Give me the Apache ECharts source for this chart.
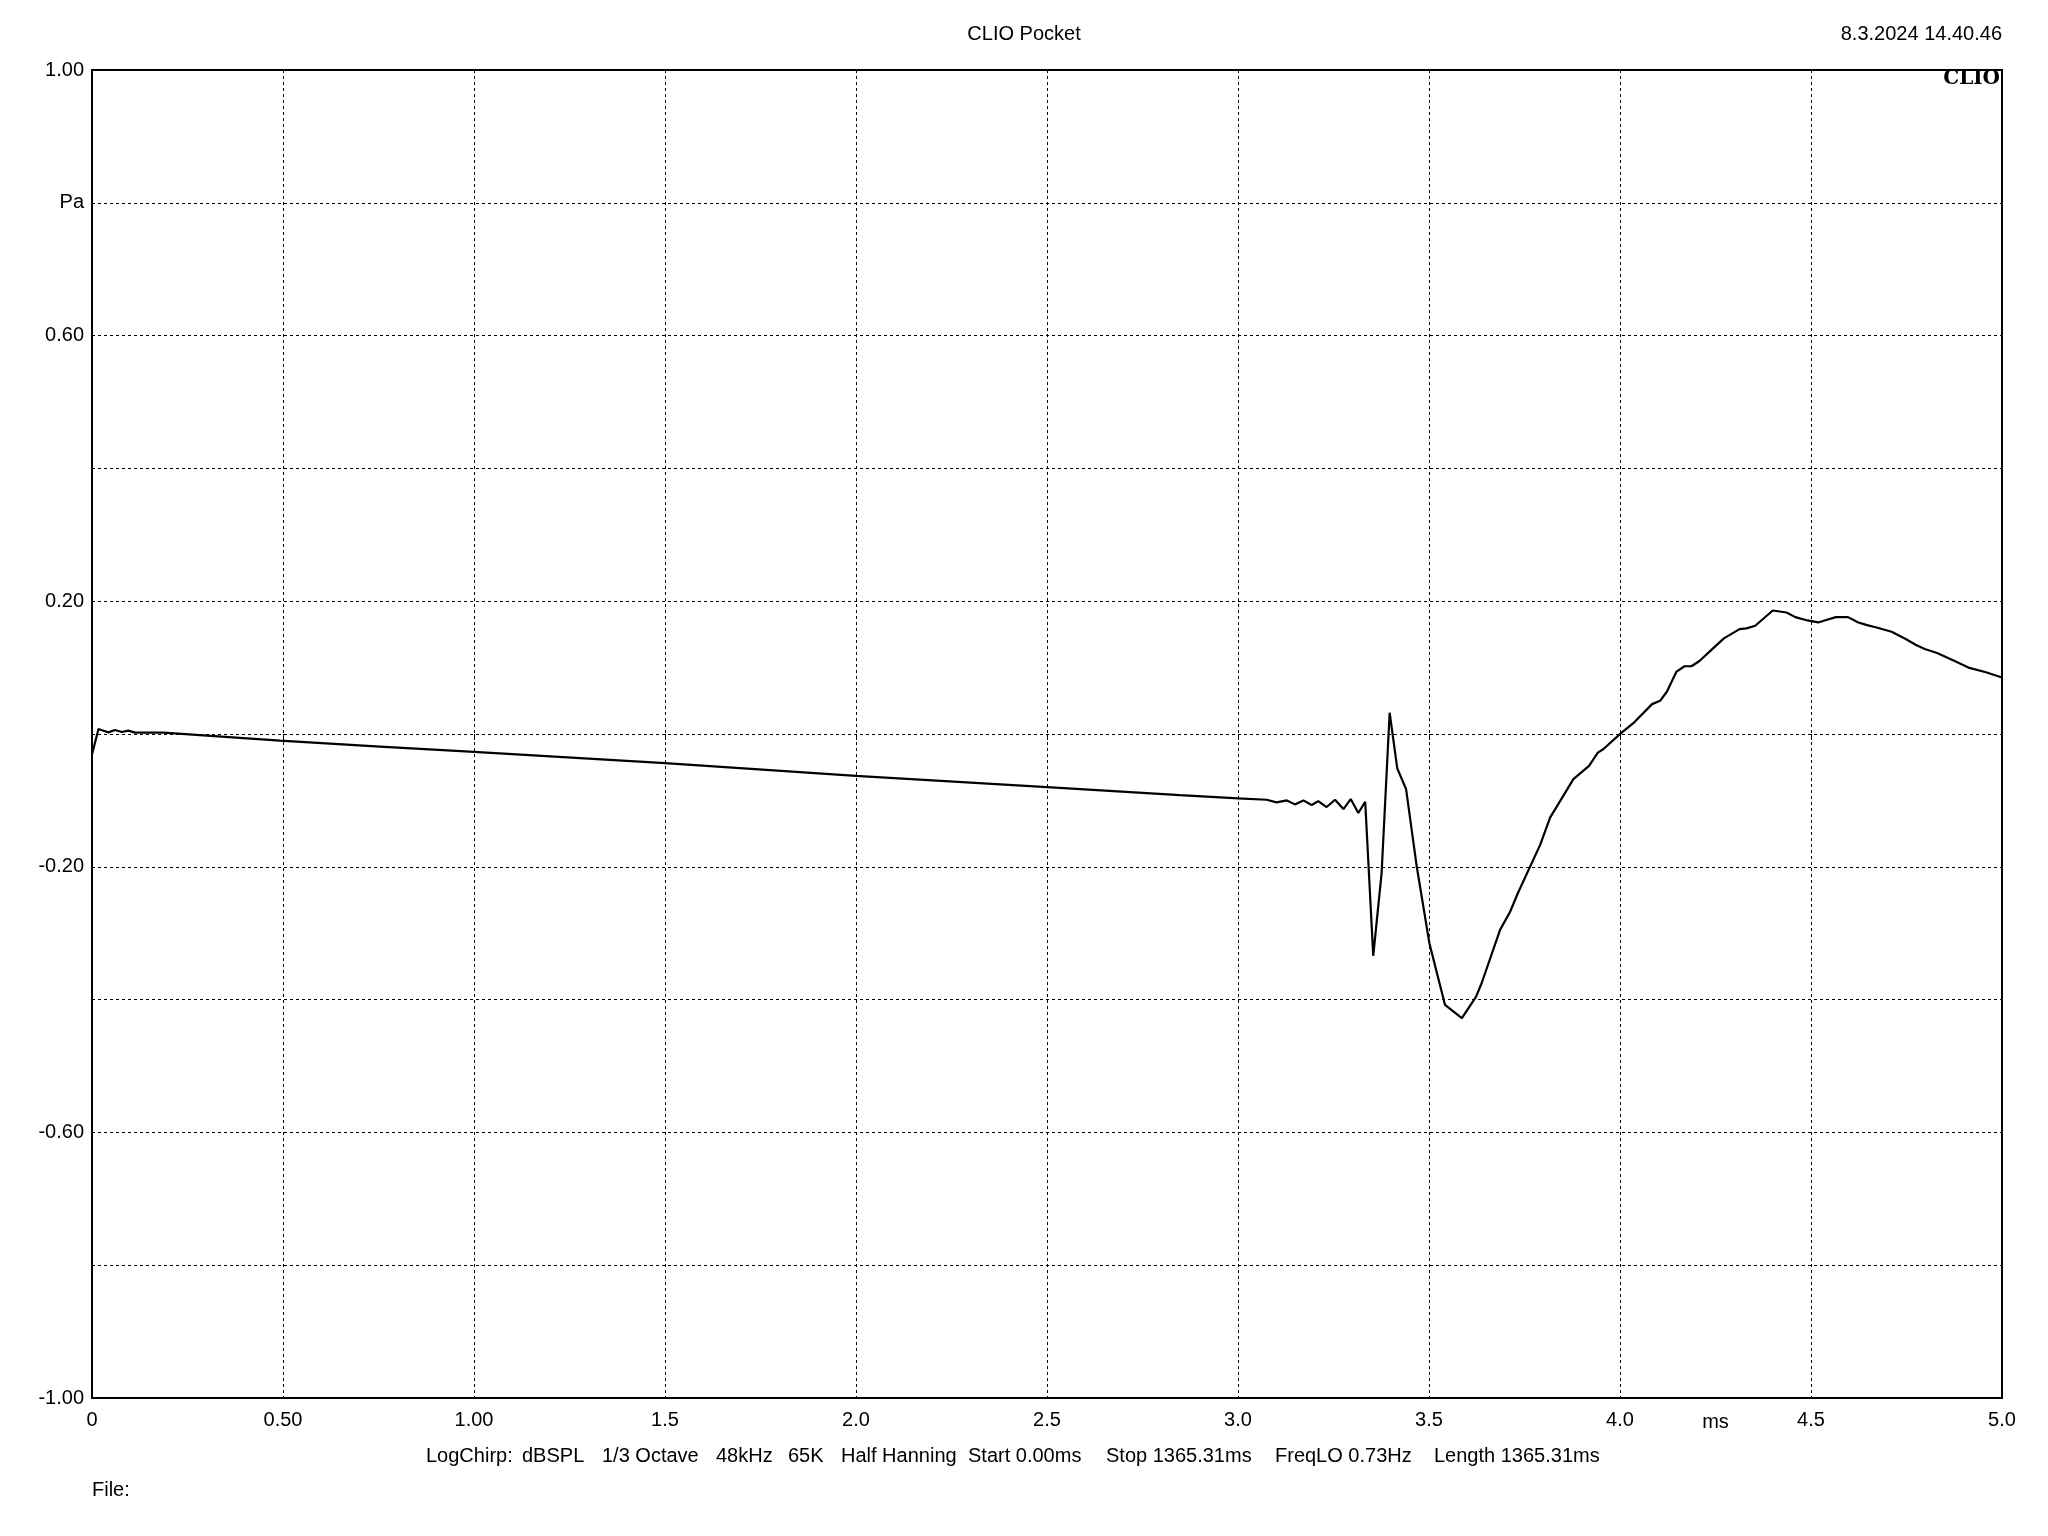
<!DOCTYPE html>
<html>
<head>
<meta charset="utf-8">
<script src="https://cdn.jsdelivr.net/npm/echarts@6/dist/echarts.min.js"></script>
<style>
html,body{margin:0;padding:0;background:#fff;}
#c{width:2048px;height:1536px;}
</style>
</head>
<body>
<div id="c"></div>
<script>
// time in ms
var timeMs = [0, 0.017, 0.030, 0.043, 0.060, 0.078, 0.095, 0.113, 0.187, 0.492, 0.754, 1.0, 1.5, 2.0, 2.5, 2.848, 3.0, 3.075, 3.101, 3.128, 3.149, 3.171, 3.193, 3.210, 3.232, 3.254, 3.276, 3.295, 3.315, 3.333, 3.354, 3.376, 3.397, 3.417, 3.440, 3.468, 3.501, 3.542, 3.586, 3.623, 3.638, 3.686, 3.712, 3.734, 3.791, 3.817, 3.878, 3.919, 3.942, 3.956, 4.002, 4.038, 4.084, 4.105, 4.123, 4.148, 4.169, 4.187, 4.208, 4.240, 4.272, 4.313, 4.331, 4.354, 4.372, 4.400, 4.436, 4.459, 4.491, 4.519, 4.542, 4.565, 4.597, 4.624, 4.647, 4.674, 4.711, 4.748, 4.775, 4.798, 4.830, 4.876, 4.912, 4.958, 5.0];
// pressure in Pa
var pressurePa = [-0.031, 0.0075, 0.005, 0.0025, 0.006, 0.003, 0.005, 0.002, 0.002, -0.010, -0.019, -0.027, -0.044, -0.063, -0.080, -0.092, -0.097, -0.099, -0.103, -0.100, -0.106, -0.100, -0.107, -0.101, -0.110, -0.099, -0.113, -0.098, -0.119, -0.102, -0.334, -0.209, 0.032, -0.052, -0.083, -0.200, -0.315, -0.408, -0.428, -0.396, -0.375, -0.295, -0.268, -0.238, -0.167, -0.126, -0.068, -0.048, -0.028, -0.023, 0.001, 0.018, 0.045, 0.050, 0.064, 0.094, 0.102, 0.102, 0.110, 0.127, 0.144, 0.158, 0.159, 0.163, 0.172, 0.186, 0.183, 0.176, 0.171, 0.168, 0.172, 0.176, 0.176, 0.168, 0.164, 0.160, 0.154, 0.143, 0.134, 0.128, 0.122, 0.110, 0.100, 0.093, 0.085];

// tick labels
var xTickValues = [0, 0.5, 1.0, 1.5, 2.0, 2.5, 3.0, 3.5, 4.0, 4.5, 5.0];
var xTickLabels = ["0", "0.50", "1.00", "1.5", "2.0", "2.5", "3.0", "3.5", "4.0", "4.5", "5.0"];
var yTickValues = [1.0, 0.8, 0.6, 0.4, 0.2, 0.0, -0.2, -0.4, -0.6, -0.8, -1.0];
var yTickLabels = ["1.00", "Pa", "0.60", "", "0.20", "", "-0.20", "", "-0.60", "", "-1.00"];
var xUnitLabel = "ms";
var xUnitPos = 4.25;

var titleText = "CLIO Pocket";
var dateText = "8.3.2024 14.40.46";
var logoText = "CLIO";
var footerParts = ["LogChirp:", "dBSPL", "1/3 Octave", "48kHz", "65K", "Half Hanning", "Start 0.00ms", "Stop 1365.31ms", "FreqLO 0.73Hz", "Length 1365.31ms"];
var footerX = [426, 522, 602, 716, 788, 841, 968, 1106, 1275, 1434];
var fileText = "File:";

function lookup(vals, labels, v) {
  for (var i = 0; i < vals.length; i++) {
    if (Math.abs(vals[i] - v) < 1e-6) return labels[i];
  }
  return "";
}

var FONT = "'Liberation Sans', Arial, sans-serif";
var FS = 20;
var chart = echarts.init(document.getElementById('c'), null, {renderer: 'canvas'});
var data = timeMs.map(function (t, i) { return [t, pressurePa[i]]; });

var option = {
  animation: false,
  backgroundColor: '#ffffff',
  grid: {
    left: 92, top: 70, width: 1910, height: 1328,
    show: true, borderColor: '#000', borderWidth: 2, backgroundColor: 'transparent'
  },
  xAxis: {
    type: 'value', min: 0, max: 5, interval: 0.5,
    axisLine: {show: false},
    axisTick: {show: true, length: 6, lineStyle: {color: '#000', width: 1}},
    splitLine: {show: true, lineStyle: {color: '#000', width: 1, type: [3, 3]}},
    axisLabel: {
      show: true, margin: 12, color: '#000', fontFamily: FONT, fontSize: FS,
      showMinLabel: true, showMaxLabel: true,
      formatter: function (v) { return lookup(xTickValues, xTickLabels, v); }
    }
  },
  yAxis: {
    type: 'value', min: -1, max: 1, interval: 0.2,
    axisLine: {show: false},
    axisTick: {show: false},
    splitLine: {show: true, lineStyle: {color: '#000', width: 1, type: [3, 3]}},
    axisLabel: {
      show: true, margin: 8, color: '#000', fontFamily: FONT, fontSize: FS,
      showMinLabel: true, showMaxLabel: true,
      formatter: function (v) { return lookup(yTickValues, yTickLabels, v); }
    }
  },
  series: [{
    type: 'line', data: data, showSymbol: false, symbol: 'none',
    lineStyle: {color: '#000', width: 2.2}, smooth: false, clip: true
  }]
};
chart.setOption(option);

var msPt = chart.convertToPixel({xAxisIndex: 0, yAxisIndex: 0}, [xUnitPos, -1]);
var graphics = [
  {type: 'text', x: 1024, y: 34, style: {text: titleText, font: FS + 'px ' + FONT, fill: '#000', textAlign: 'center', textVerticalAlign: 'middle'}},
  {type: 'text', x: 2002, y: 34, style: {text: dateText, font: FS + 'px ' + FONT, fill: '#000', textAlign: 'right', textVerticalAlign: 'middle'}},
  {type: 'text', x: 2000, y: 79, z: 10, style: {text: logoText, font: 'bold 20px "DejaVu Serif", "Liberation Serif", serif', fill: '#000', textAlign: 'right', textVerticalAlign: 'middle'}},
  {type: 'text', x: msPt[0], y: 1422, style: {text: xUnitLabel, font: FS + 'px ' + FONT, fill: '#000', textAlign: 'center', textVerticalAlign: 'middle'}},
  {type: 'text', x: 92, y: 1490, style: {text: fileText, font: FS + 'px ' + FONT, fill: '#000', textAlign: 'left', textVerticalAlign: 'middle'}}
];
for (var i = 0; i < footerParts.length; i++) {
  graphics.push({type: 'text', x: footerX[i], y: 1456, style: {text: footerParts[i], font: FS + 'px ' + FONT, fill: '#000', textAlign: 'left', textVerticalAlign: 'middle'}});
}
chart.setOption({graphic: graphics});
</script>
</body>
</html>
